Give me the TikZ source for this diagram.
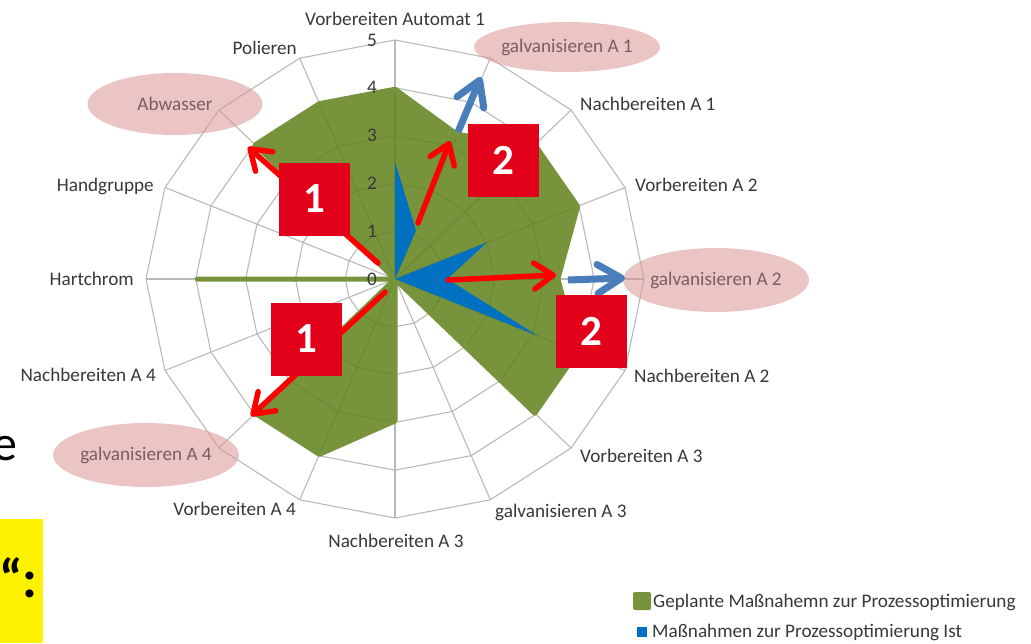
\documentclass[tikz,border=0pt]{standalone}
\usepackage{fontspec}
\setmainfont{Carlito}
\usetikzlibrary{arrows.meta,shapes.geometric}

\definecolor{labelgray}{RGB}{56,56,56}
\definecolor{gridgray}{RGB}{185,185,185}
\definecolor{plangreen}{RGB}{95,128,26}
\definecolor{legendgreen}{RGB}{119,147,60}
\definecolor{istblue}{RGB}{0,112,192}
\definecolor{boxred}{RGB}{226,0,26}
\definecolor{arrowblue}{RGB}{74,126,187}
\definecolor{ovalpink}{RGB}{217,150,148}
\definecolor{ovaltext}{RGB}{120,94,98}

\tikzset{
  axislabel/.style={text=labelgray, font=\fontsize{19.2}{21}\selectfont, inner sep=0pt},
  ticklabel/.style={axislabel, anchor=mid east},
  pinkoval/.style={ellipse, fill=ovalpink, fill opacity=0.55, text opacity=1, text=ovaltext,
    font=\fontsize{19.2}{21}\selectfont, inner sep=0pt},
  redbox/.style={fill=boxred, text=white, minimum width=71pt, minimum height=73pt,
    font=\bfseries\fontsize{43}{43}\selectfont, inner sep=0pt},
  redarrow/.style={draw=red, line width=5.5pt, line cap=round, -{Straight Barb[length=19pt,width=26pt,round]}},
  bluearrow/.style={draw=arrowblue, line width=7pt, -{Straight Barb[length=24pt,width=29pt,round]}},
  gridline/.style={draw=gridgray, line width=1.1pt},
  planpoly/.style={fill=plangreen, fill opacity=0.85, draw=legendgreen, line width=5pt, line join=round},
}

\begin{document}
\begin{tikzpicture}[x=1pt,y=-1pt]
\useasboundingbox (0,0) rectangle (1031,643);

\coordinate (ctr) at (395,279);
\begin{scope}[shift={(ctr)},x=49.8pt,y=-47.8pt]
\foreach \k in {0,...,15}
  \draw[gridline] (0,0) -- (\k*22.5-90:5);
\foreach \r in {1,...,5}
  \draw[gridline] (-90:\r) \foreach \k in {1,...,15}{ -- (\k*22.5-90:\r)} -- cycle;
\path[planpoly] (-90:3.97) -- (-67.5:3.27) -- (-45:3.97) -- (-22.5:3.97) -- (0:3.27) -- (22.5:3.97) -- (45:3.97)
  -- (0,0) -- (90:2.97) -- (112.5:3.97) -- (135:3.97) -- (0,0) -- (180:3.97) -- (0,0) -- (225:3.97) -- (247.5:3.97) -- cycle;
\fill[istblue] (-90:2.45) -- (-67.5:1.1) -- (0,0) -- (-22.5:2) -- (0:1.05) -- (22.5:3.1) -- (0,0) -- cycle;
\end{scope}

\node[ticklabel] (t0) at (377,283) {0};
\node[ticklabel] (t1) at (377,235) {1};
\node[ticklabel] (t2) at (377,187) {2};
\node[ticklabel] (t3) at (377,139) {3};
\node[ticklabel] (t4) at (377,91) {4};
\node[ticklabel] (t5) at (377,44) {5};

\node[pinkoval, minimum width=170pt, minimum height=50pt] (galvA1) at (567,47) {galvanisieren A 1};
\node[pinkoval, minimum width=176pt, minimum height=64pt] (galvA2) at (716,280) {galvanisieren A 2};
\node[pinkoval, minimum width=172pt, minimum height=64pt] (galvA4) at (146,455) {galvanisieren A 4};
\node[pinkoval, minimum width=175pt, minimum height=62pt] (abwasser) at (175,104) {Abwasser};

\node[axislabel, anchor=base] (vorbAut1) at (395,25) {Vorbereiten Automat 1};
\node[axislabel, anchor=base west] (nachA1) at (580,110) {Nachbereiten A 1};
\node[axislabel, anchor=base west] (vorbA2) at (635,191) {Vorbereiten A 2};
\node[axislabel, anchor=base west] (nachA2) at (634,382) {Nachbereiten A 2};
\node[axislabel, anchor=base west] (vorbA3) at (580,462) {Vorbereiten A 3};
\node[axislabel, anchor=base west] (galvA3) at (495,517) {galvanisieren A 3};
\node[axislabel, anchor=base] (nachA3) at (396,547) {Nachbereiten A 3};
\node[axislabel, anchor=base east] (vorbA4) at (296,515) {Vorbereiten A 4};
\node[axislabel, anchor=base east] (nachA4) at (156,381) {Nachbereiten A 4};
\node[axislabel, anchor=base east] (hartchrom) at (134,285) {Hartchrom};
\node[axislabel, anchor=base east] (handgruppe) at (154,191) {Handgruppe};
\node[axislabel, anchor=base east] (polieren) at (297,54) {Polieren};

\coordinate (ra1s) at (378,263); \coordinate (ra1e) at (248,147);
\coordinate (ra2s) at (385,292); \coordinate (ra2e) at (251,416);
\coordinate (ra3s) at (418,223); \coordinate (ra3e) at (450,141);
\coordinate (ra4s) at (448,280); \coordinate (ra4e) at (556,275);
\coordinate (ba1s) at (458,132); \coordinate (ba1e) at (481,77);
\coordinate (ba2s) at (568,280); \coordinate (ba2e) at (625,278);
\draw[redarrow] (ra1s) -- (ra1e);
\draw[redarrow] (ra2s) -- (ra2e);
\draw[redarrow] (ra3s) -- (ra3e);
\draw[redarrow] (ra4s) -- (ra4e);
\draw[bluearrow] (ba1s) -- (ba1e);
\draw[bluearrow] (ba2s) -- (ba2e);

\node[redbox] (box1a) at (314,199) {1};
\node[redbox] (box1b) at (306,339) {1};
\node[redbox] (box2a) at (503,160) {2};
\node[redbox] (box2b) at (591,331) {2};

\node[fill=legendgreen, rounded corners=2pt, minimum size=18pt, inner sep=0pt] (legplan) at (642,601) {};
\node[axislabel, anchor=base west] (legplantext) at (653,607) {Geplante Maßnahemn zur Prozessoptimierung};
\node[fill=istblue, minimum size=10pt, inner sep=0pt] (legist) at (642,632) {};
\node[axislabel, anchor=base west] (legisttext) at (652,637) {Maßnahmen zur Prozessoptimierung Ist};

\node[anchor=base east, inner sep=0pt, font=\fontsize{50}{50}\selectfont] (cute) at (18,460) {e};
\node[fill=yellow, anchor=north west, minimum width=43pt, minimum height=124pt, inner sep=0pt] (hlbox) at (0,519) {};
\node[anchor=base east, inner sep=0pt, font=\bfseries\fontsize{54}{54}\selectfont] (hltext) at (38,597) {“:};
\end{tikzpicture}
\end{document}
